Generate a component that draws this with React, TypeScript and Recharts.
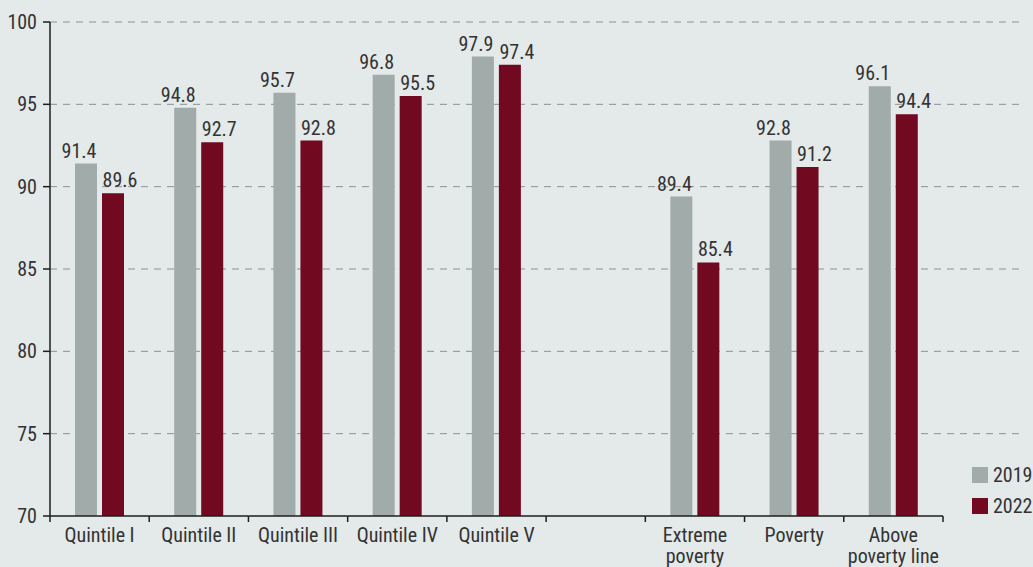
import React from "react";
import { BarChart, Bar, XAxis, YAxis, CartesianGrid, LabelList, Legend } from "recharts";

const categories = [
  "Quintile I",
  "Quintile II",
  "Quintile III",
  "Quintile IV",
  "Quintile V",
  "",
  "Extreme\npoverty",
  "Poverty",
  "Above\npoverty line",
];
const values2019 = [91.4, 94.8, 95.7, 96.8, 97.9, null, 89.4, 92.8, 96.1];
const values2022 = [89.6, 92.7, 92.8, 95.5, 97.4, null, 85.4, 91.2, 94.4];
const yTicks = [70, 75, 80, 85, 90, 95, 100];
const gridValues = [75, 80, 85, 90, 95, 100];

const FONT =
  '"Liberation Sans Narrow", "Roboto Condensed", "DejaVu Sans Condensed", Roboto, sans-serif';
const BG = "#e4e9e9";
const GRAY = "#a1abaa";
const RED = "#710a21";
const TEXT = "#333333";
const AXIS = "#1e1e1e";

const data = categories.map((name, i) => ({
  name,
  v2019: values2019[i],
  v2022: values2022[i],
}));

const XTick = (props: any) => {
  const { x, y, payload, index, visibleTicksCount } = props;
  const half = payload && payload.offset ? payload.offset : 49.6;
  const lines = String(payload.value).split("\n");
  const last = index === visibleTicksCount - 1;
  return (
    <g>
      <line x1={x - half} x2={x + half} y1={y} y2={y} stroke={AXIS} strokeWidth={1.5} />
      <line x1={x - half} x2={x - half} y1={y} y2={y + 6} stroke={AXIS} strokeWidth={1.5} />
      {last && (
        <line x1={x + half} x2={x + half} y1={y} y2={y + 6} stroke={AXIS} strokeWidth={1.5} />
      )}
      <text x={x} y={y + 26} textAnchor="middle" fill={TEXT} fontSize={20} fontFamily={FONT}>
        {lines.map((l, i) => (
          <tspan key={i} x={x} dy={i === 0 ? 0 : 21}>
            {l}
          </tspan>
        ))}
      </text>
    </g>
  );
};

// value labels sit a little off-centre: 2019 to the left, 2022 to the right
const makeLabel = (shift: number) => (props: any) => {
  const { x, y, width, value } = props;
  if (value === null || value === undefined) return null;
  return (
    <text
      x={x + width / 2 + shift}
      y={y - 6}
      textAnchor="middle"
      fill={TEXT}
      fontSize={20}
      fontFamily={FONT}
    >
      {value}
    </text>
  );
};

const renderLegend = (props: any) => {
  const { payload } = props;
  return (
    <div style={{ fontFamily: FONT, fontSize: 20, color: TEXT }}>
      {payload.map((entry: any, i: number) => (
        <div
          key={`legend-${i}`}
          style={{ display: "flex", alignItems: "center", height: 31 }}
        >
          <span
            style={{
              display: "inline-block",
              width: 16,
              height: 16,
              background: entry.color,
              marginRight: 5,
            }}
          />
          <span>{entry.value}</span>
        </div>
      ))}
    </div>
  );
};

const App = () => {
  return (
    <div
      style={{
        position: "absolute",
        left: 0,
        top: 0,
        width: 1033,
        height: 567,
        background: BG,
        overflow: "hidden",
      }}
    >
      <BarChart
        width={1033}
        height={567}
        data={data}
        margin={{ top: 22, right: 13, bottom: 0, left: 0 }}
        barGap={5}
      >
        <CartesianGrid
          vertical={false}
          horizontalValues={gridValues}
          stroke="#8c9191"
          strokeDasharray="7 6"
        />
        <XAxis
          dataKey="name"
          height={51}
          interval={0}
          axisLine={false}
          tickLine={false}
          tickSize={0}
          tickMargin={0}
          padding={{ left: 0, right: 77 }}
          tick={<XTick />}
        />
        <YAxis
          width={50}
          domain={[70, 100]}
          ticks={yTicks}
          interval={0}
          axisLine={{ stroke: AXIS, strokeWidth: 1.5 }}
          tickLine={{ stroke: AXIS, strokeWidth: 1.5 }}
          tickSize={7}
          tickMargin={6}
          tick={{ fill: TEXT, fontSize: 20, fontFamily: FONT }}
        />
        <Legend
          layout="vertical"
          align="center"
          verticalAlign="middle"
          content={renderLegend}
          wrapperStyle={{ position: "absolute", left: 972, top: 459, width: 61 }}
        />
        <Bar dataKey="v2019" name="2019" fill={GRAY} barSize={22} isAnimationActive={false}>
          <LabelList dataKey="v2019" content={makeLabel(-7)} />
        </Bar>
        <Bar dataKey="v2022" name="2022" fill={RED} barSize={22} isAnimationActive={false}>
          <LabelList dataKey="v2022" content={makeLabel(7)} />
        </Bar>
      </BarChart>
    </div>
  );
};

export default App;
